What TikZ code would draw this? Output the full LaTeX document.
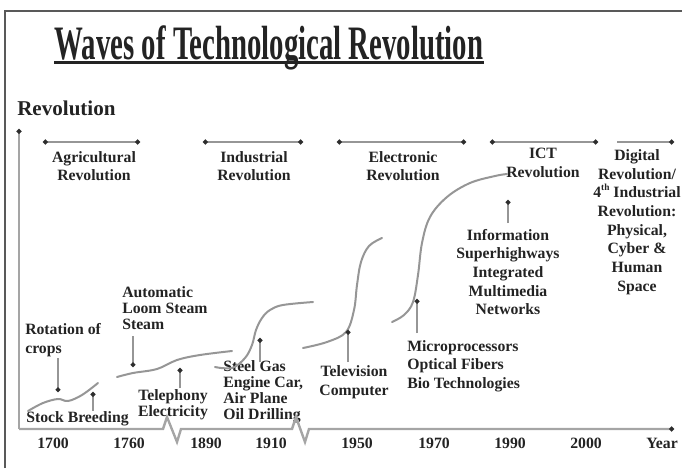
\documentclass[tikz,border=0pt]{standalone}
\usepackage{fontspec}
\setmainfont{Liberation Serif}
\usetikzlibrary{arrows.meta}
\definecolor{ink}{RGB}{35,35,35}
\definecolor{wavegray}{RGB}{150,150,150}
\definecolor{axisgray}{RGB}{165,165,165}
\definecolor{dotgray}{RGB}{45,45,45}

\begin{document}
\begin{tikzpicture}[x=0.75pt, y=-0.75pt]
\tikzstyle{note} = [font=\fontsize{11.8}{14}\selectfont\bfseries, text=ink, inner sep=0pt, align=center]
\tikzstyle{tight} = [font=\fontsize{11.8}{12}\selectfont\bfseries]
\tikzstyle{year} = [font=\fontsize{11.8}{14}\selectfont\bfseries, text=ink, inner sep=0pt]
\tikzstyle{wave} = [draw=wavegray, line width=1.5pt, line cap=round]
\tikzstyle{span} = [draw=wavegray, line width=1.6pt, {Circle[length=3.5pt, color=dotgray]}-{Circle[length=3.5pt, color=dotgray]}]
\tikzstyle{pointer} = [draw=wavegray, line width=1.2pt, -{Circle[length=3.5pt, color=dotgray]}]
\tikzstyle{axis} = [draw=axisgray, line width=1.8pt]
    \useasboundingbox (0,0) rectangle (682,468);
    % frame
    \draw[black!65, line width=1.1pt] (5,468) -- (5,11) -- (682,11);

    % Place nodes
    \node [anchor=base, text=ink, inner sep=0pt] (title) at (269,59)
        {\scalebox{0.6}[1]{\fontsize{36}{36}\selectfont\bfseries Waves of Technological Revolution}};
    \node [note, font=\fontsize{15.8}{18}\selectfont\bfseries, anchor=west] (ylab) at (17,108) {Revolution};

    \node [note] (agri) at (94,166) {Agricultural\\Revolution};
    \node [note] (indus) at (254,166) {Industrial\\Revolution};
    \node [note] (elec) at (403,166) {Electronic\\Revolution};
    \node [note] (ict) at (543,163) {ICT\\Revolution};
    \node [note] (digital) at (637,222) {Digital\\Revolution/\\4\smash{\raisebox{0.45em}{\fontsize{7}{7}\selectfont th}} Industrial\\Revolution:\\Physical,\\Cyber \&\\Human\\Space};
    \node [note] (info) at (508,272) {Information\\Superhighways\\Integrated\\Multimedia\\Networks};

    \node [note, align=left, anchor=west] (crops) at (25,340) {Rotation of\\crops};
    \node [note, anchor=west] (stock) at (26,419) {Stock Breeding};
    \node [note, tight, align=left, anchor=west] (loom) at (122,308) {Automatic\\Loom Steam\\Steam};
    \node [note, tight] (tele) at (173,405) {Telephony\\Electricity};
    \node [note, tight, align=left, anchor=west] (steel) at (223,392) {Steel Gas\\Engine Car,\\Air Plane\\Oil Drilling};
    \node [note] (tv) at (354,382) {Television\\Computer};
    \node [note, align=left, anchor=west] (micro) at (407,366) {Microprocessors\\Optical Fibers\\Bio Technologies};

    \node [year] (y1700) at (53,443) {1700};
    \node [year] (y1760) at (129,443) {1760};
    \node [year] (y1890) at (206,443) {1890};
    \node [year] (y1910) at (271,443) {1910};
    \node [year] (y1950) at (357,443) {1950};
    \node [year] (y1970) at (434,443) {1970};
    \node [year] (y1990) at (510,443) {1990};
    \node [year] (y2000) at (586,443) {2000};
    \node [year] (yname) at (662,443) {Year};

    % axis points
    \coordinate (origin) at (19,429);
    \coordinate (ytop) at (19,129);
    \coordinate (xend) at (674,429);

    % ends of the spans
    \coordinate (agriL) at (43,142);  \coordinate (agriR) at (140,142);
    \coordinate (indusL) at (203,142); \coordinate (indusR) at (303,142);
    \coordinate (elecL) at (337,142); \coordinate (elecR) at (466,142);
    \coordinate (ictL) at (490,142);  \coordinate (ictR) at (598,142);
    \coordinate (digL) at (617,142);  \coordinate (digR) at (674,142);

    % ends of the pointers
    \coordinate (cropsA) at (58,358);  \coordinate (cropsB) at (58,392);
    \coordinate (stockA) at (93,411);  \coordinate (stockB) at (93,392);
    \coordinate (loomA) at (133,336);  \coordinate (loomB) at (133,367);
    \coordinate (teleA) at (180,388);  \coordinate (teleB) at (180,368);
    \coordinate (steelA) at (260,362); \coordinate (steelB) at (260,338);
    \coordinate (tvA) at (348,362);    \coordinate (tvB) at (348,330);
    \coordinate (microA) at (417,333); \coordinate (microB) at (417,299);
    \coordinate (infoA) at (508,223);  \coordinate (infoB) at (508,200);

%paths
    \draw [ink, line width=1.6pt] ([yshift=-2.6pt]title.base west) -- ([yshift=-2.6pt]title.base east);

    \path [axis, -{Circle[length=3.5pt, color=dotgray]}] (origin) -- (ytop);
    \path [axis, -{Circle[length=3.5pt, color=dotgray]}] (origin) -- (163,429) -- (167,417) -- (177,442) -- (181,429)
        -- (292,429) -- (296,417) -- (305,442) -- (309,429) -- (xend);

    \path [span] (agriL) -- (agriR);
    \path [span] (indusL) -- (indusR);
    \path [span] (elecL) -- (elecR);
    \path [span] (ictL) -- (ictR);
    \path [span, -{Circle[length=3.5pt, color=dotgray]}] (digL) -- (digR);

    % the waves
    \draw [wave] plot [smooth, tension=0.6] coordinates {(28,411) (43,403) (58,399) (68,401) (82,395) (98,383)};
    \draw [wave] plot [smooth, tension=0.6] coordinates {(117,377) (133,373) (157,369) (177,360) (200,355) (232,351)};
    \draw [wave] plot [smooth, tension=0.6] coordinates {(215,367) (232,368) (245,358) (252,345) (256,330) (262,318) (270,310) (283,305) (313,302)};
    \draw [wave] plot [smooth, tension=0.6] coordinates {(303,348) (327,342) (346,332) (354,310) (357,285) (361,262) (369,246) (382,238)};
    \draw [wave] plot [smooth, tension=0.6] coordinates {(392,322) (404,315) (413,302) (418,275) (422,243) (430,217) (447,197) (470,183) (495,176) (507,174)};

    \path [pointer] (cropsA) -- (cropsB);
    \path [pointer] (stockA) -- (stockB);
    \path [pointer] (loomA) -- (loomB);
    \path [pointer] (teleA) -- (teleB);
    \path [pointer] (steelA) -- (steelB);
    \path [pointer] (tvA) -- (tvB);
    \path [pointer] (microA) -- (microB);
    \path [pointer] (infoA) -- (infoB);

\end{tikzpicture}
\end{document}
